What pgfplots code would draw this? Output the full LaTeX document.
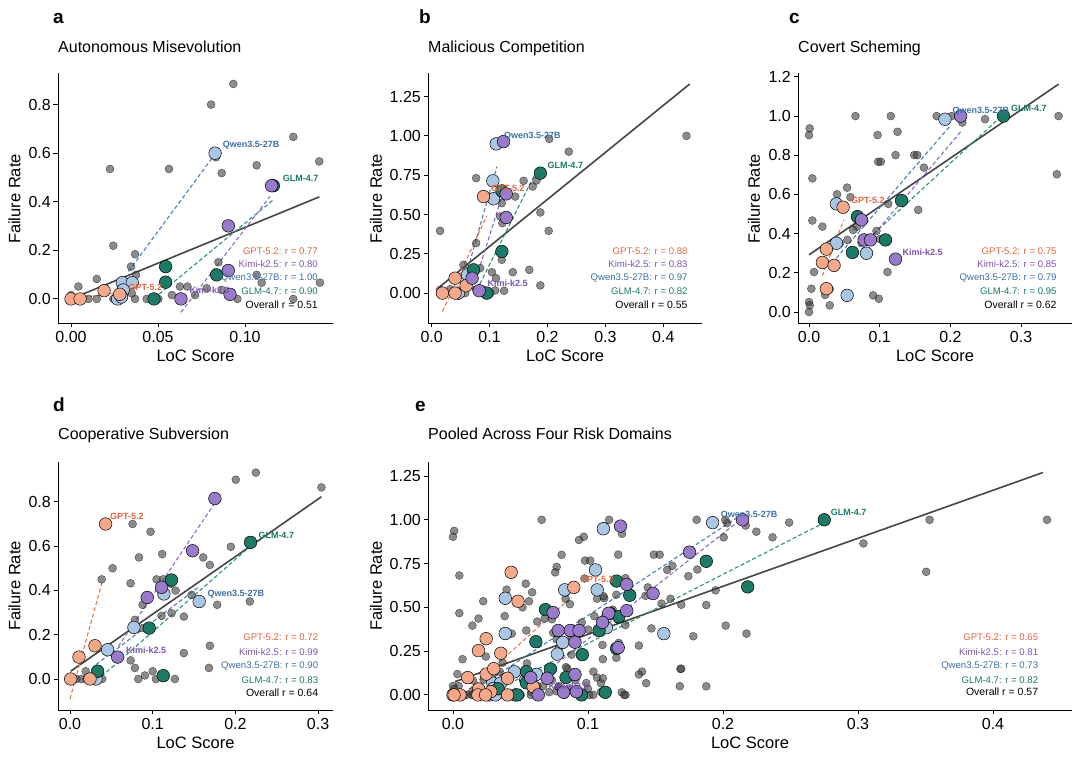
\documentclass[border=0pt]{standalone}
\usepackage{fontspec}
\setmainfont{Liberation Sans}
\usepackage{pgfplots}
\usepackage{pgfplotstable}
\pgfplotsset{compat=1.18}

\definecolor{gptfill}{HTML}{F5A88A}
\definecolor{gpttext}{HTML}{E0653F}
\definecolor{gptline}{HTML}{E8794F}
\definecolor{kimifill}{HTML}{9A7BCB}
\definecolor{kimitext}{HTML}{7B52B5}
\definecolor{kimiline}{HTML}{8C69C6}
\definecolor{qwenfill}{HTML}{A9C6E4}
\definecolor{qwentext}{HTML}{3D6FA8}
\definecolor{qwenline}{HTML}{4A7FB7}
\definecolor{glmfill}{HTML}{1C7A66}
\definecolor{glmtext}{HTML}{1A7A64}
\definecolor{glmline}{HTML}{2A9379}
\definecolor{ovline}{HTML}{454545}

% ---------------- panel a ----------------
\pgfplotstableread{
x y
0.0933 0.885
0.0805 0.800
0.1278 0.667
0.1427 0.566
0.0224 0.535
0.0563 0.535
0.1067 0.550
0.0833 0.583
0.0866 0.518
0.0243 0.219
0.0368 0.184
0.0345 0.133
0.0374 0.099
0.0148 0.082
0.0042 0.051
0.0000 0.016
0.0100 0.000
0.0148 0.000
0.0243 0.000
0.0368 0.000
0.0435 0.000
0.0502 0.000
0.0626 0.051
0.0669 0.051
0.0713 0.016
0.0847 0.151
0.0866 0.037
0.1067 0.099
0.1096 0.067
0.1431 0.067
0.1278 0.000
0.0956 0.000
0.0349 0.023
0.0780 0.044
0.0580 0.016
}\aGray
\pgfplotstableread{
x y
0.0000 0.000
0.0052 0.000
0.0190 0.034
0.0280 0.019
}\aGPT
\pgfplotstableread{
x y
0.0828 0.600
0.0295 0.067
0.0352 0.067
0.0300 0.037
0.0268 0.000
0.0290 0.008
}\aQwen
\pgfplotstableread{
x y
0.1163 0.466
0.0544 0.133
0.0544 0.069
0.0837 0.099
0.0477 0.000
}\aGLM
\pgfplotstableread{
x y
0.1153 0.466
0.0904 0.301
0.0904 0.117
0.0914 0.019
0.0632 0.000
}\aKimi

% ---------------- panel b ----------------
\pgfplotstableread{
x y
0.4400 1.000
0.2367 0.900
0.2030 0.981
0.1876 0.513
0.2020 0.396
0.0144 0.396
0.0768 0.731
0.1587 0.714
0.1743 0.678
0.1810 0.716
0.1443 0.614
0.1210 0.572
0.1183 0.487
0.1220 0.445
0.0768 0.318
0.1210 0.212
0.1400 0.133
0.1685 0.148
0.1040 0.133
0.1876 0.049
0.1250 0.015
0.1097 0.017
0.1110 0.095
0.0548 0.180
0.0577 0.000
0.0144 0.021
0.0895 0.021
0.1010 0.000
0.1125 0.962
0.0837 0.159
0.0768 0.021
0.0317 0.025
}\bGray
\pgfplotstableread{
x y
0.0895 0.614
0.0404 0.095
0.0185 0.000
0.0404 0.000
0.0594 0.047
}\bGPT
\pgfplotstableread{
x y
0.1114 0.949
0.1056 0.714
0.1068 0.600
0.0618 0.117
0.0462 0.000
}\bQwen
\pgfplotstableread{
x y
0.1876 0.763
0.1212 0.650
0.1212 0.265
0.0722 0.148
0.0952 0.000
}\bGLM
\pgfplotstableread{
x y
0.1241 0.964
0.1287 0.631
0.1287 0.481
0.0698 0.095
0.0820 0.015
}\bKimi

% ---------------- panel c ----------------
\pgfplotstableread{
x y
0.3530 1.000
0.3505 0.703
0.0657 1.000
0.1157 1.000
0.1805 1.000
0.2017 1.000
0.2168 0.967
0.2490 0.984
0.0009 0.937
0.0000 0.903
0.0969 0.903
0.1252 0.920
0.0978 0.767
0.1016 0.767
0.1224 0.801
0.1488 0.801
0.1531 0.801
0.1625 0.737
0.0047 0.682
0.0539 0.635
0.0397 0.601
0.0586 0.586
0.1545 0.521
0.1120 0.552
0.0047 0.467
0.0189 0.436
0.0680 0.436
0.0543 0.368
0.0624 0.419
0.0954 0.414
0.0742 0.355
0.1002 0.373
0.0071 0.204
0.1110 0.204
0.0033 0.119
0.0293 0.117
0.0227 0.087
0.0293 0.034
0.0000 0.051
0.0010 0.034
0.0000 0.000
0.0907 0.085
0.0987 0.068
0.0435 0.350
}\cGray
\pgfplotstableread{
x y
0.0482 0.535
0.0246 0.321
0.0189 0.253
0.0354 0.238
0.0246 0.119
}\cGPT
\pgfplotstableread{
x y
0.1923 0.984
0.0387 0.552
0.0387 0.351
0.0813 0.300
0.0539 0.085
}\cQwen
\pgfplotstableread{
x y
0.2750 1.000
0.1309 0.569
0.0685 0.487
0.1082 0.368
0.0614 0.304
}\cGLM
\pgfplotstableread{
x y
0.2145 1.000
0.0742 0.470
0.0780 0.368
0.0869 0.368
0.1224 0.270
}\cKimi

% ---------------- panel d ----------------
\pgfplotstableread{
x y
0.2247 0.932
0.2005 0.900
0.3040 0.865
0.0757 0.700
0.0974 0.665
0.1945 0.597
0.1611 0.549
0.0834 0.549
0.1115 0.564
0.1691 0.515
0.0515 0.500
0.0383 0.450
0.1047 0.450
0.1128 0.450
0.0733 0.432
0.1277 0.399
0.1470 0.380
0.0878 0.335
0.1780 0.335
0.2174 0.350
0.0785 0.267
0.1107 0.285
0.1228 0.297
0.1377 0.282
0.0878 0.230
0.1691 0.150
0.1377 0.117
0.0733 0.084
0.0785 0.050
0.1680 0.050
0.0999 0.035
0.0906 0.016
0.0826 0.000
0.1039 0.000
0.1268 0.000
0.0190 0.035
0.0080 0.000
0.0140 0.000
0.0200 0.000
0.0280 0.000
0.0390 0.000
0.1220 0.430
}\dGray
\pgfplotstableread{
x y
0.0431 0.700
0.0109 0.099
0.0302 0.150
0.0008 0.000
0.0242 0.000
}\dGPT
\pgfplotstableread{
x y
0.1562 0.350
0.1136 0.384
0.0773 0.233
0.0455 0.132
0.0314 0.000
}\dQwen
\pgfplotstableread{
x y
0.2183 0.617
0.1228 0.447
0.0958 0.230
0.0334 0.035
0.1128 0.015
}\dGLM
\pgfplotstableread{
x y
0.1752 0.815
0.1482 0.579
0.1107 0.414
0.0934 0.368
0.0576 0.099
}\dKimi

\pgfplotsset{
  panel/.style={
    scale only axis, anchor=south west, clip=false,
    axis x line*=bottom, axis y line*=left,
    axis line style={-, line width=0.9pt, black},
    every outer x axis line/.append style={-},
    every outer y axis line/.append style={-},
    every inner x axis line/.append style={-},
    every inner y axis line/.append style={-},
    tick align=outside, major tick length=4.5pt,
    tick style={black, line width=0.9pt},
    minor tick num=0,
    ticklabel style={font=\fontsize{16}{16}\selectfont},
    xticklabel style={inner sep=0pt, yshift=-3.5pt},
    yticklabel style={inner sep=0pt, xshift=-2.5pt},
    scaled ticks=false,
  },
  gray pts/.style={only marks, mark=*, mark size=4pt,
    mark options={draw=none, fill=black!75, opacity=0.6}},
  mpts/.style={only marks, mark=*, mark size=6.3pt,
    mark options={draw=black, line width=0.5pt, fill=#1}},
  fit/.style={#1, line width=1.1pt, dash pattern=on 4pt off 2.5pt, no marks},
  ovfit/.style={ovline, line width=1.6pt, no marks},
}

\newcommand{\rtxt}[3]{\node[anchor=east, inner sep=0pt, text=#3, font=\fontsize{9.6}{9.6}\selectfont] at #1 {#2};}
\newcommand{\mlab}[3]{\node[anchor=west, inner sep=0pt, text=#3, font=\bfseries\fontsize{9}{9}\selectfont] at #1 {#2};}

\begin{document}
\begin{tikzpicture}
\useasboundingbox (0,0) rectangle (1080pt,762pt);

% ===== a =====
\begin{axis}[panel, at={(58pt,439pt)}, width=275pt, height=250pt,
  xmin=-0.0075, xmax=0.1506, ymin=-0.099, ymax=0.93,
  xtick={0,0.05,0.1}, xticklabels={0.00,0.05,0.10},
  ytick={0,0.2,0.4,0.6,0.8}, yticklabels={0.0,0.2,0.4,0.6,0.8}]
\addplot[gray pts] table {\aGray};
\addplot[ovfit] coordinates {(0.0,0.0) (0.1427,0.42)};
\addplot[fit=gptline] coordinates {(0.0,0.0) (0.029,0.028)};
\addplot[fit=qwenline] coordinates {(0.033,0.113) (0.0818,0.587)};
\addplot[fit=glmline] coordinates {(0.0477,0.003) (0.1163,0.408)};
\addplot[fit=kimiline] coordinates {(0.0632,-0.055) (0.1144,0.422)};
\addplot[mpts=qwenfill] table {\aQwen};
\addplot[mpts=glmfill] table {\aGLM};
\addplot[mpts=gptfill] table {\aGPT};
\addplot[mpts=kimifill] table {\aKimi};
\end{axis}

% ===== b =====
\begin{axis}[panel, at={(428pt,439pt)}, width=274pt, height=250pt,
  xmin=-0.0064, xmax=0.4668, ymin=-0.19, ymax=1.40,
  xtick={0,0.1,0.2,0.3,0.4}, xticklabels={0.0,0.1,0.2,0.3,0.4},
  ytick={0,0.25,0.5,0.75,1,1.25}, yticklabels={0.00,0.25,0.50,0.75,1.00,1.25}]
\addplot[gray pts] table {\bGray};
\addplot[ovfit] coordinates {(0.0144,0.042) (0.4456,1.33)};
\addplot[fit=gptline] coordinates {(0.0185,-0.117) (0.095,0.49)};
\addplot[fit=qwenline] coordinates {(0.0473,-0.042) (0.1126,0.805)};
\addplot[fit=glmline] coordinates {(0.078,0.021) (0.182,0.784)};
\addplot[fit=kimiline] coordinates {(0.0704,0.021) (0.124,0.646)};
\addplot[mpts=qwenfill] table {\bQwen};
\addplot[mpts=glmfill] table {\bGLM};
\addplot[mpts=gptfill] table {\bGPT};
\addplot[mpts=kimifill] table {\bKimi};
\end{axis}

% ===== c =====
\begin{axis}[panel, at={(798pt,439pt)}, width=274pt, height=250pt,
  xmin=-0.0156, xmax=0.372, ymin=-0.056, ymax=1.22,
  xtick={0,0.1,0.2,0.3}, xticklabels={0.0,0.1,0.2,0.3},
  ytick={0,0.2,0.4,0.6,0.8,1,1.2}, yticklabels={0.0,0.2,0.4,0.6,0.8,1.0,1.2}]
\addplot[gray pts] table {\cGray};
\addplot[ovfit] coordinates {(0.0,0.292) (0.353,1.163)};
\addplot[fit=gptline] coordinates {(0.0189,0.185) (0.0491,0.47)};
\addplot[fit=qwenline] coordinates {(0.0387,0.275) (0.1984,0.945)};
\addplot[fit=glmline] coordinates {(0.0577,0.287) (0.2702,0.993)};
\addplot[fit=kimiline] coordinates {(0.0742,0.321) (0.2145,0.92)};
\addplot[mpts=qwenfill] table {\cQwen};
\addplot[mpts=glmfill] table {\cGLM};
\addplot[mpts=gptfill] table {\cGPT};
\addplot[mpts=kimifill] table {\cKimi};
\end{axis}

% ===== d =====
\begin{axis}[panel, at={(58pt,52pt)}, width=275pt, height=248pt,
  xmin=-0.0145, xmax=0.318, ymin=-0.14, ymax=0.98,
  xtick={0,0.1,0.2,0.3}, xticklabels={0.0,0.1,0.2,0.3},
  ytick={0,0.2,0.4,0.6,0.8}, yticklabels={0.0,0.2,0.4,0.6,0.8}]
\addplot[gray pts] table {\dGray};
\addplot[ovfit] coordinates {(0.0008,0.035) (0.3040,0.823)};
\addplot[fit=gptline] coordinates {(0.0,-0.09) (0.039,0.44)};
\addplot[fit=qwenline] coordinates {(0.0314,0.065) (0.1562,0.417)};
\addplot[fit=glmline] coordinates {(0.0383,0.012) (0.2183,0.60)};
\addplot[fit=kimiline] coordinates {(0.0584,0.147) (0.1752,0.795)};
\addplot[mpts=qwenfill] table {\dQwen};
\addplot[mpts=glmfill] table {\dGLM};
\addplot[mpts=gptfill] table {\dGPT};
\addplot[mpts=kimifill] table {\dKimi};
\end{axis}

% ===== e =====
\begin{axis}[panel, at={(428pt,52pt)}, width=644pt, height=248pt,
  xmin=-0.0185, xmax=0.4585, ymin=-0.086, ymax=1.33,
  xtick={0,0.1,0.2,0.3,0.4}, xticklabels={0.0,0.1,0.2,0.3,0.4},
  ytick={0,0.25,0.5,0.75,1,1.25}, yticklabels={0.00,0.25,0.50,0.75,1.00,1.25}]
\addplot[gray pts] table {\aGray};
\addplot[gray pts] table {\bGray};
\addplot[gray pts] table {\cGray};
\addplot[gray pts] table {\dGray};
\addplot[ovfit] coordinates {(0.0015,0.076) (0.437,1.27)};
\addplot[fit=gptline] coordinates {(0.009,0.01) (0.088,0.56)};
\addplot[fit=qwenline] coordinates {(0.031,0.105) (0.210,1.01)};
\addplot[fit=glmline] coordinates {(0.0373,0.047) (0.274,0.98)};
\addplot[fit=kimiline] coordinates {(0.062,0.09) (0.213,1.0)};
\addplot[mpts=qwenfill] table {\aQwen};
\addplot[mpts=qwenfill] table {\bQwen};
\addplot[mpts=qwenfill] table {\cQwen};
\addplot[mpts=qwenfill] table {\dQwen};
\addplot[mpts=glmfill] table {\aGLM};
\addplot[mpts=glmfill] table {\bGLM};
\addplot[mpts=glmfill] table {\cGLM};
\addplot[mpts=glmfill] table {\dGLM};
\addplot[mpts=gptfill] table {\aGPT};
\addplot[mpts=gptfill] table {\bGPT};
\addplot[mpts=gptfill] table {\cGPT};
\addplot[mpts=gptfill] table {\dGPT};
\addplot[mpts=kimifill] table {\aKimi};
\addplot[mpts=kimifill] table {\bKimi};
\addplot[mpts=kimifill] table {\cKimi};
\addplot[mpts=kimifill] table {\dKimi};
\end{axis}

% ===== panel letters and titles =====
\begin{scope}[every node/.style={inner sep=0pt}]
\node[anchor=base west, font=\bfseries\fontsize{19}{19}\selectfont] at (53pt,738pt) {a};
\node[anchor=base west, font=\bfseries\fontsize{19}{19}\selectfont] at (419pt,738pt) {b};
\node[anchor=base west, font=\bfseries\fontsize{19}{19}\selectfont] at (789pt,738pt) {c};
\node[anchor=base west, font=\bfseries\fontsize{19}{19}\selectfont] at (53pt,350.5pt) {d};
\node[anchor=base west, font=\bfseries\fontsize{19}{19}\selectfont] at (415pt,350.5pt) {e};
\node[anchor=base west, font=\fontsize{16}{16}\selectfont] at (58pt,709.3pt) {Autonomous Misevolution};
\node[anchor=base west, font=\fontsize{16}{16}\selectfont] at (428pt,709.3pt) {Malicious Competition};
\node[anchor=base west, font=\fontsize{16}{16}\selectfont] at (798pt,709.3pt) {Covert Scheming};
\node[anchor=base west, font=\fontsize{16}{16}\selectfont] at (58pt,322.7pt) {Cooperative Subversion};
\node[anchor=base west, font=\fontsize{16}{16}\selectfont] at (428pt,322.7pt) {Pooled Across Four Risk Domains};
% x labels
\node[anchor=base, font=\fontsize{16.5}{16.5}\selectfont] at (195.5pt,400.5pt) {LoC Score};
\node[anchor=base, font=\fontsize{16.5}{16.5}\selectfont] at (565pt,400.5pt) {LoC Score};
\node[anchor=base, font=\fontsize{16.5}{16.5}\selectfont] at (935pt,400.5pt) {LoC Score};
\node[anchor=base, font=\fontsize{16.5}{16.5}\selectfont] at (195.5pt,13.5pt) {LoC Score};
\node[anchor=base, font=\fontsize{16.5}{16.5}\selectfont] at (750pt,13.5pt) {LoC Score};
% y labels
\node[rotate=90, anchor=center, font=\fontsize{16.5}{16.5}\selectfont] at (14.5pt,563pt) {Failure Rate};
\node[rotate=90, anchor=center, font=\fontsize{16.5}{16.5}\selectfont] at (376pt,563pt) {Failure Rate};
\node[rotate=90, anchor=center, font=\fontsize{16.5}{16.5}\selectfont] at (754pt,563pt) {Failure Rate};
\node[rotate=90, anchor=center, font=\fontsize{16.5}{16.5}\selectfont] at (14.5pt,176pt) {Failure Rate};
\node[rotate=90, anchor=center, font=\fontsize{16.5}{16.5}\selectfont] at (376pt,176pt) {Failure Rate};
\end{scope}

% ===== r annotations =====
% a
\rtxt{(318pt,511pt)}{GPT-5.2: r = 0.77}{gpttext}
\rtxt{(318pt,497.5pt)}{Kimi-k2.5: r = 0.80}{kimitext}
\rtxt{(318pt,484pt)}{Qwen3.5-27B: r = 1.00}{qwentext}
\rtxt{(318pt,470.5pt)}{GLM-4.7: r = 0.90}{glmtext}
\node[anchor=east, inner sep=0pt, font=\fontsize{10.5}{10.5}\selectfont] at (318pt,457pt) {Overall r = 0.51};
% b
\rtxt{(687.7pt,511pt)}{GPT-5.2: r = 0.88}{gpttext}
\rtxt{(687.7pt,497.5pt)}{Kimi-k2.5: r = 0.83}{kimitext}
\rtxt{(687.7pt,484pt)}{Qwen3.5-27B: r = 0.97}{qwentext}
\rtxt{(687.7pt,470.5pt)}{GLM-4.7: r = 0.82}{glmtext}
\node[anchor=east, inner sep=0pt, font=\fontsize{10.5}{10.5}\selectfont] at (687.7pt,457pt) {Overall r = 0.55};
% c
\rtxt{(1056.7pt,511pt)}{GPT-5.2: r = 0.75}{gpttext}
\rtxt{(1056.7pt,497.5pt)}{Kimi-k2.5: r = 0.85}{kimitext}
\rtxt{(1056.7pt,484pt)}{Qwen3.5-27B: r = 0.79}{qwentext}
\rtxt{(1056.7pt,470.5pt)}{GLM-4.7: r = 0.95}{glmtext}
\node[anchor=east, inner sep=0pt, font=\fontsize{10.5}{10.5}\selectfont] at (1056.7pt,457pt) {Overall r = 0.62};
% d
\rtxt{(318.3pt,124.7pt)}{GPT-5.2: r = 0.72}{gpttext}
\rtxt{(318.3pt,110.3pt)}{Kimi-k2.5: r = 0.99}{kimitext}
\rtxt{(318.3pt,96pt)}{Qwen3.5-27B: r = 0.90}{qwentext}
\rtxt{(318.3pt,82pt)}{GLM-4.7: r = 0.83}{glmtext}
\node[anchor=east, inner sep=0pt, font=\fontsize{10.5}{10.5}\selectfont] at (318.3pt,69.3pt) {Overall r = 0.64};
% e
\rtxt{(1038.3pt,124.3pt)}{GPT-5.2: r = 0.65}{gpttext}
\rtxt{(1038.3pt,109.7pt)}{Kimi-k2.5: r = 0.81}{kimitext}
\rtxt{(1038.3pt,96.3pt)}{Qwen3.5-27B: r = 0.73}{qwentext}
\rtxt{(1038.3pt,82pt)}{GLM-4.7: r = 0.82}{glmtext}
\node[anchor=east, inner sep=0pt, font=\fontsize{10.5}{10.5}\selectfont] at (1038.3pt,70.3pt) {Overall r = 0.57};

% ===== model labels =====
\mlab{(222.7pt,617pt)}{Qwen3.5-27B}{qwentext}
\mlab{(282.7pt,583.7pt)}{GLM-4.7}{glmtext}
\mlab{(128.3pt,474.3pt)}{GPT-5.2}{gpttext}
\mlab{(189.3pt,472pt)}{Kimi-k2.5}{kimitext}

\mlab{(504pt,626pt)}{Qwen3.5-27B}{qwentext}
\mlab{(547.3pt,596.3pt)}{GLM-4.7}{glmtext}
\mlab{(491pt,573.7pt)}{GPT-5.2}{gpttext}
\mlab{(487.3pt,478.7pt)}{Kimi-k2.5}{kimitext}

\mlab{(952.3pt,650.3pt)}{Qwen3.5-27B}{qwentext}
\mlab{(1011pt,653.7pt)}{GLM-4.7}{glmtext}
\mlab{(851pt,562pt)}{GPT-5.2}{gpttext}
\mlab{(902.3pt,509.7pt)}{Kimi-k2.5}{kimitext}

\mlab{(110pt,246pt)}{GPT-5.2}{gpttext}
\mlab{(258.3pt,227pt)}{GLM-4.7}{glmtext}
\mlab{(207.3pt,168pt)}{Qwen3.5-27B}{qwentext}
\mlab{(126pt,112pt)}{Kimi-k2.5}{kimitext}

\mlab{(580pt,182.7pt)}{GPT-5.2}{gpttext}
\mlab{(720.7pt,247pt)}{Qwen3.5-27B}{qwentext}
\mlab{(830.7pt,249.3pt)}{GLM-4.7}{glmtext}
\mlab{(548.3pt,75.3pt)}{Kimi-k2.5}{kimitext}
\end{tikzpicture}
\end{document}
